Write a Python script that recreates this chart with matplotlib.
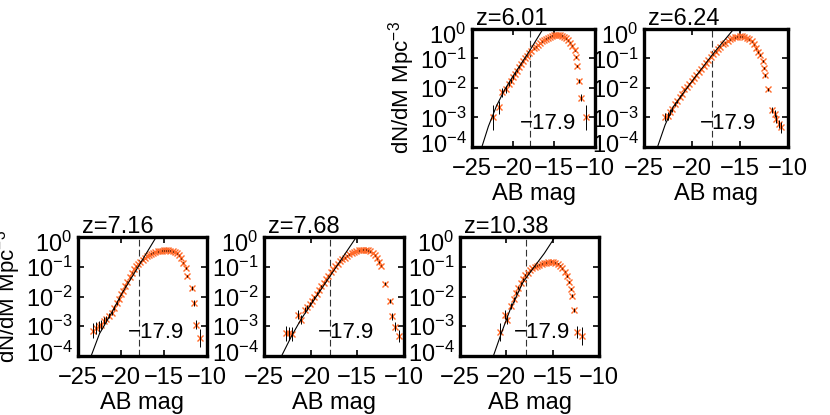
import matplotlib
matplotlib.use('Agg')
import matplotlib.pyplot as plt
import matplotlib.transforms as mtransforms
import numpy as np

plt.rcParams['font.family'] = ['Liberation Sans', 'DejaVu Sans']
plt.rcParams['mathtext.fontset'] = 'custom'
plt.rcParams['mathtext.rm'] = 'Liberation Sans'
plt.rcParams['mathtext.it'] = 'Liberation Sans:italic'
plt.rcParams['font.size'] = 16

m_cut = -17.9
redshifts = ['6.01', '6.24', '7.16', '7.68', '10.38']

# z=6.01 : magnitude, log10(dN/dM), error (dex)
mag_601 = [-22.4, -21.7, -21.4, -20.8, -20.5, -20.25, -20.0, -19.75, -19.5, -19.25, -19.0, -18.75,
           -18.5, -18.25, -18.0, -17.75, -17.5, -17.25, -17.0, -16.75, -16.5, -16.25, -16.0, -15.75,
           -15.5, -15.25, -15.0, -14.75, -14.5, -14.25, -14.0, -13.75, -13.5, -13.25, -13.0, -12.75,
           -12.5, -12.3, -12.15, -12.0, -11.75, -11.1]
lphi_601 = [-3.0, -2.65, -2.15, -2.05, -1.85, -1.75, -1.62, -1.52, -1.42, -1.30, -1.20, -1.10,
            -1.0, -0.90, -0.82, -0.74, -0.66, -0.60, -0.54, -0.48, -0.42, -0.37, -0.33, -0.29,
            -0.26, -0.23, -0.21, -0.20, -0.20, -0.21, -0.23, -0.27, -0.32, -0.38, -0.46, -0.56,
            -0.72, -0.96, -1.25, -1.77, -2.33, -3.0]
err_601 = [0.42, 0.22, 0.16, 0.12, 0.09, 0.07, 0.06, 0.05, 0.04, 0.03, 0.02, 0.02,
           0.02, 0.01, 0.01, 0.01, 0.01, 0.01, 0.01, 0.01, 0.01, 0.01, 0.01, 0.01,
           0.01, 0.01, 0.01, 0.01, 0.01, 0.01, 0.01, 0.01, 0.01, 0.01, 0.01, 0.01,
           0.02, 0.03, 0.04, 0.06, 0.12, 0.42]
fitm_601 = [-24.3, -23.8, -23.0, -22.0, -21.0, -20.0, -18.0, -16.3]
fitl_601 = [-4.6, -4.0, -3.3, -2.6, -2.05, -1.6, -0.75, 0.02]

# z=6.24
mag_624 = [-22.8, -22.55, -22.3, -22.05, -21.8, -21.55, -21.3, -21.05, -20.8, -20.55, -20.3, -20.05,
           -19.8, -19.55, -19.3, -19.05, -18.8, -18.55, -18.3, -18.05, -17.8, -17.55, -17.3, -17.05,
           -16.8, -16.55, -16.3, -16.05, -15.8, -15.55, -15.3, -15.05, -14.8, -14.55, -14.3, -14.05,
           -13.8, -13.55, -13.3, -13.1, -12.9, -12.65, -12.45, -12.35, -12.1, -11.65, -11.4, -11.2,
           -10.9, -10.7]
lphi_624 = [-2.99, -2.95, -2.8, -2.72, -2.55, -2.45, -2.3, -2.2, -2.05, -1.95, -1.85, -1.75,
            -1.65, -1.55, -1.45, -1.35, -1.25, -1.15, -1.05, -0.95, -0.86, -0.77, -0.68, -0.6,
            -0.52, -0.46, -0.40, -0.35, -0.31, -0.28, -0.26, -0.25, -0.25, -0.27, -0.30, -0.35,
            -0.42, -0.52, -0.65, -0.78, -0.88, -1.08, -1.32, -1.57, -2.05, -2.75, -2.88, -3.04,
            -3.22, -3.33]
err_624 = [0.14, 0.12, 0.1, 0.08, 0.07, 0.06, 0.05, 0.04, 0.03, 0.03, 0.02, 0.02,
           0.02, 0.02, 0.01, 0.01, 0.01, 0.01, 0.01, 0.01, 0.01, 0.01, 0.01, 0.01,
           0.01, 0.01, 0.01, 0.01, 0.01, 0.01, 0.01, 0.01, 0.01, 0.01, 0.01, 0.01,
           0.01, 0.01, 0.02, 0.02, 0.02, 0.03, 0.04, 0.05, 0.06, 0.1, 0.12, 0.14,
           0.15, 0.18]
fitm_624 = [-24.1, -23.7, -22.8, -21.95, -20.0, -17.8, -15.6]
fitl_624 = [-4.5, -4.1, -3.25, -2.64, -1.77, -0.84, 0.02]

# z=7.16
mag_716 = [-23.3, -22.9, -22.6, -22.3, -22.0, -21.7, -21.4, -21.1, -20.8, -20.5, -20.25, -20.0,
           -19.75, -19.5, -19.25, -19.0, -18.75, -18.5, -18.25, -18.0, -17.75, -17.5, -17.25, -17.0,
           -16.75, -16.5, -16.25, -16.0, -15.75, -15.5, -15.25, -15.0, -14.75, -14.5, -14.25, -14.0,
           -13.75, -13.5, -13.25, -13.0, -12.75, -12.5, -12.3, -11.72, -11.52, -11.25, -10.86]
lphi_716 = [-3.15, -3.05, -3.0, -2.95, -2.82, -2.75, -2.65, -2.55, -2.38, -2.22, -2.08, -1.93,
            -1.8, -1.64, -1.5, -1.35, -1.2, -1.08, -0.99, -0.91, -0.83, -0.76, -0.70, -0.64,
            -0.60, -0.56, -0.53, -0.50, -0.48, -0.47, -0.46, -0.45, -0.45, -0.45, -0.46, -0.48,
            -0.51, -0.55, -0.62, -0.72, -0.86, -1.03, -1.31, -1.72, -2.23, -2.95, -3.39]
err_716 = [0.25, 0.2, 0.18, 0.15, 0.12, 0.1, 0.08, 0.07, 0.06, 0.05, 0.04, 0.03,
           0.03, 0.02, 0.02, 0.02, 0.01, 0.01, 0.01, 0.01, 0.01, 0.01, 0.01, 0.01,
           0.01, 0.01, 0.01, 0.01, 0.01, 0.01, 0.01, 0.01, 0.01, 0.01, 0.01, 0.01,
           0.01, 0.01, 0.01, 0.02, 0.02, 0.03, 0.04, 0.06, 0.1, 0.15, 0.3]
fitm_716 = [-23.8, -23.5, -22.5, -21.0, -19.9, -17.85, -15.8]
fitl_716 = [-4.3, -4.02, -3.25, -2.5, -1.9, -0.93, 0.05]

# z=7.68
mag_768 = [-22.6, -22.3, -22.0, -21.35, -21.0, -20.65, -20.35, -20.1, -19.85, -19.6, -19.35, -19.1,
           -18.85, -18.6, -18.35, -18.1, -17.85, -17.6, -17.35, -17.1, -16.85, -16.6, -16.35, -16.1,
           -15.85, -15.6, -15.35, -15.1, -14.85, -14.6, -14.35, -14.1, -13.85, -13.6, -13.35, -13.1,
           -12.9, -12.7, -12.45, -12.07, -11.5, -11.25, -11.0, -10.57]
lphi_768 = [-3.24, -3.24, -3.26, -2.61, -2.78, -2.44, -2.36, -2.26, -2.14, -2.02, -1.9, -1.78,
            -1.65, -1.53, -1.42, -1.3, -1.19, -1.08, -0.98, -0.9, -0.82, -0.75, -0.69, -0.63,
            -0.58, -0.54, -0.5, -0.47, -0.45, -0.44, -0.43, -0.43, -0.45, -0.48, -0.54, -0.62,
            -0.72, -0.84, -0.96, -1.57, -2.15, -2.67, -3.01, -3.33]
err_768 = [0.25, 0.22, 0.22, 0.14, 0.16, 0.1, 0.08, 0.07, 0.06, 0.05, 0.04, 0.03,
           0.03, 0.02, 0.02, 0.02, 0.01, 0.01, 0.01, 0.01, 0.01, 0.01, 0.01, 0.01,
           0.01, 0.01, 0.01, 0.01, 0.01, 0.01, 0.01, 0.01, 0.01, 0.01, 0.01, 0.02,
           0.02, 0.02, 0.03, 0.05, 0.08, 0.12, 0.15, 0.2]
fitm_768 = [-23.5, -23.2, -22.0, -21.0, -18.0, -15.1]
fitl_768 = [-4.3, -4.05, -3.3, -2.75, -1.35, 0.0]

# z=10.38
mag_1038 = [-20.7, -20.15, -19.9, -19.45, -19.2, -18.95, -18.7, -18.45, -18.2, -17.95, -17.7, -17.45,
            -17.2, -16.95, -16.7, -16.45, -16.2, -15.95, -15.7, -15.45, -15.2, -14.95, -14.7, -14.45,
            -14.2, -13.95, -13.7, -13.45, -13.25, -13.05, -12.9, -12.75, -12.4, -11.85]
lphi_1038 = [-3.18, -2.61, -2.78, -2.32, -2.1, -1.88, -1.7, -1.54, -1.4, -1.28, -1.2, -1.12,
             -1.05, -1.0, -0.96, -0.93, -0.9, -0.88, -0.86, -0.84, -0.83, -0.84, -0.86, -0.9,
             -0.96, -1.05, -1.17, -1.32, -1.52, -1.75, -1.98, -2.44, -3.18, -3.33]
err_1038 = [0.3, 0.14, 0.15, 0.1, 0.07, 0.05, 0.04, 0.03, 0.03, 0.02, 0.02, 0.02,
            0.01, 0.01, 0.01, 0.01, 0.01, 0.01, 0.01, 0.01, 0.01, 0.01, 0.01, 0.01,
            0.02, 0.02, 0.02, 0.03, 0.03, 0.04, 0.05, 0.07, 0.2, 0.3]
fitm_1038 = [-21.7, -21.4, -20.5, -19.6, -18.2, -17.1, -15.9, -14.75]
fitl_1038 = [-4.4, -4.0, -3.2, -2.45, -1.52, -1.05, -0.55, 0.0]

panels = [
    (mag_601, lphi_601, err_601, fitm_601, fitl_601),
    (mag_624, lphi_624, err_624, fitm_624, fitl_624),
    (mag_716, lphi_716, err_716, fitm_716, fitl_716),
    (mag_768, lphi_768, err_768, fitm_768, fitl_768),
    (mag_1038, lphi_1038, err_1038, fitm_1038, fitl_1038),
]

# axes boxes in pixels: left, right, top, bottom
boxes = [(472, 595, 29, 147), (644, 788, 29, 147),
         (78, 207, 237, 356), (264, 404, 237, 356), (460, 599, 237, 356)]
W, H = 830, 415
orange = '#ff6a2a'

fig = plt.figure(figsize=(W / 100, H / 100), dpi=100)

for i, (mag, lphi, err, fm, fl) in enumerate(panels):
    l, r, t, b = boxes[i]
    ax = fig.add_axes([l / W, 1 - b / H, (r - l) / W, (b - t) / H])
    mag = np.array(mag)
    lphi = np.array(lphi)
    err = np.array(err)
    y = 10 ** lphi
    ylo = y - 10 ** (lphi - err)
    yhi = 10 ** (lphi + err) - y

    ax.plot(mag, y, 'x', color=orange, ms=5, mew=1.0, zorder=2)
    ax.errorbar(mag, y, yerr=[ylo, yhi], fmt='none', ecolor='k', elinewidth=0.7, capsize=0, zorder=3)
    ax.plot(fm, 10 ** np.array(fl), 'k-', lw=0.8, zorder=4)
    ax.axvline(m_cut, color='0.2', ls=(0, (6, 3)), lw=0.8, zorder=1)
    ax.text(-19.2, 10 ** -3.2, '\u221217.9', ha='left', va='center', fontsize=16, zorder=5)

    ax.set_yscale('log')
    ax.set_xlim(-25, -10)
    ax.set_ylim(1e-4, 1)
    ax.set_xticks([-25, -20, -15, -10])
    ax.set_yticks([1e-4, 1e-3, 1e-2, 1e-1, 1])
    ax.tick_params(which='both', direction='in', top=True, right=True, labelsize=17)
    ax.tick_params(which='major', length=4, width=1.2, pad=4)
    ax.tick_params(axis='x', which='major', pad=8)
    ax.tick_params(which='minor', length=2.2, width=0.9)
    for s in ax.spines.values():
        s.set_linewidth(2.4)

    # end labels of the y axis sit a little inside the box, as in the original
    yt = ax.yaxis.get_major_ticks()
    shift_dn = mtransforms.ScaledTranslation(0, -0.05, fig.dpi_scale_trans)
    shift_up = mtransforms.ScaledTranslation(0, 0.04, fig.dpi_scale_trans)
    yt[0].label1.set_transform(yt[0].label1.get_transform() + shift_up)
    yt[-1].label1.set_transform(yt[-1].label1.get_transform() + shift_dn)

    w, h = r - l, b - t
    ax.text(4 / w, 1 + 4 / h, 'z=' + redshifts[i], transform=ax.transAxes,
            ha='left', va='baseline', fontsize=17)
    ax.set_xlabel('AB mag', fontsize=17, va='top')
    ax.xaxis.set_label_coords(0.5, -36 / h)
    if i in (0, 2):
        ax.set_ylabel('dN/dM Mpc$^{\\mathregular{-3}}$', fontsize=16)
        ax.yaxis.set_label_coords(-55 / w, 0.5)

fig.savefig('out.png', dpi=100)
